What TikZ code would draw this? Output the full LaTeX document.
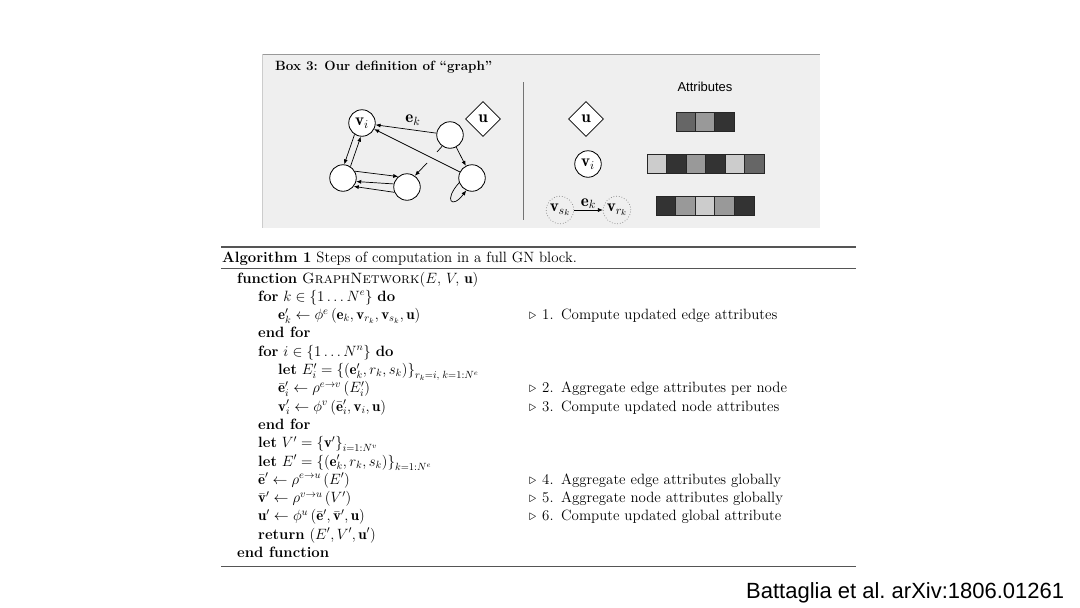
\RequirePackage{fix-cm}
\documentclass[tikz,border=0pt]{standalone}
\usepackage{fontspec}
\newfontfamily\arialf{Liberation Sans}
\usetikzlibrary{shapes.geometric,arrows.meta,calc}
\definecolor{boxbg}{HTML}{EFEFEF}
\definecolor{cA}{HTML}{333333}
\definecolor{cB}{HTML}{666666}
\definecolor{cC}{HTML}{999999}
\definecolor{cD}{HTML}{CCCCCC}
\definecolor{rulec}{HTML}{555555}
\newcommand{\algfont}{\fontsize{14.9}{18}\selectfont}
\newcommand{\boxfont}{\fontsize{13.4}{16}\selectfont}
\newcommand{\gfont}{\fontsize{17}{20}\selectfont}
\tikzset{
  gnode/.style={circle, draw=black, fill=white, line width=0.8pt, minimum size=26.5pt, inner sep=0pt, font=\gfont},
  gdiam/.style={diamond, draw=black, fill=white, line width=0.8pt, minimum width=35pt, minimum height=35pt, inner sep=0pt, font=\gfont},
  dnode/.style={circle, draw=gray, dotted, line width=0.7pt, minimum size=27.5pt, inner sep=0pt, font=\gfont},
  gedge/.style={-{Latex[length=5pt,width=4pt]}, line width=0.7pt},
  gline/.style={line width=0.7pt},
  alg/.style={anchor=base west, inner sep=0pt, font=\algfont},
  cell/.style={draw=black!85, line width=0.7pt},
  arule/.style={draw=rulec},
}
\begin{document}
\begin{tikzpicture}[x=1pt,y=-1pt]
\useasboundingbox (0,0) rectangle (1080,608);
% ---------- Box 3 ----------
\fill[boxbg] (262,54) rectangle (820,228);
\draw[gray!80, line width=0.9pt] (262,54) -- (820,54);
\draw[gray!40, line width=0.6pt] (262.5,54) -- (262.5,228);
\node[anchor=base west, inner sep=0pt, font=\boxfont\bfseries] (title) at (275,70) {Box 3: Our definition of ``graph''};
\draw[gray!90!black, line width=0.8pt] (523,82) -- (523,220);
% graph
\node[gnode] (vi) at (362,123) {$\mathbf{v}_i$};
\node[gnode] (tr) at (450,135) {};
\node[gnode] (bl) at (343,178) {};
\node[gnode] (bm) at (407,187) {};
\node[gnode] (rb) at (472,178) {};
\node[gdiam] (u) at (483,119) {$\mathbf{u}$};
\node[inner sep=0pt, font=\gfont] (eklab) at (413,120) {$\mathbf{e}_k$};
\draw[gedge] (tr) -- (vi);
\draw[gedge] (rb) -- (vi);
\draw[gedge] (tr) -- (rb);
\draw[gedge] (vi.237) -- (bl.85);
\draw[gedge] (bl.57) -- (vi.265);
\draw[gedge] (bl.30) -- (bm.130);
\draw[gedge] (bm.167) -- (bl.-15);
\draw[gedge] (bm.203) -- (bl.-38);
\coordinate (gapA) at (437,152);
\coordinate (gapB) at (427,163);
\draw[gline] (tr.235) -- (gapA);
\draw[gedge] (gapB) -- (bm.55);
\draw[gedge] (rb.200) .. controls +(-16,18) and +(-14,19) .. (rb.245);
% right side
\node[font=\arialf\fontsize{13}{15}\selectfont, inner sep=0pt] (attr) at (705,87) {Attributes};
\node[gdiam] (u2) at (586,119) {$\mathbf{u}$};
\node[gnode] (vi2) at (588,164) {$\mathbf{v}_i$};
\node[dnode] (vs) at (560,210) {$\mathbf{v}_{s_k}$};
\node[dnode] (vr) at (617,210) {$\mathbf{v}_{r_k}$};
\draw[gedge] (vs) -- (vr) node[midway, above, inner sep=1pt, font=\gfont] (eklab2) {$\mathbf{e}_k$};
% attribute bars
\foreach \c [count=\i from 0] in {cB,cC,cA}
  \filldraw[cell, fill=\c] (676+\i*19.33,112) rectangle ++(19.33,19);
\foreach \c [count=\i from 0] in {cD,cA,cC,cA,cD,cB}
  \filldraw[cell, fill=\c] (647+\i*19.5,154) rectangle ++(19.5,19);
\foreach \c [count=\i from 0] in {cA,cC,cD,cC,cA}
  \filldraw[cell, fill=\c] (656+\i*19.6,196) rectangle ++(19.6,19);
% ---------- Algorithm ----------
\draw[arule, line width=1.3pt] (221,247) -- (856,247);
\draw[arule, line width=0.6pt] (221,268) -- (856,268);
\draw[arule, line width=0.9pt] (221,566) -- (856,566);
\node[alg] (cap) at (222,262) {\textbf{Algorithm 1} Steps of computation in a full GN block.};
\node[alg] (l1) at (237,283) {\textbf{function} \textsc{GraphNetwork}$(E,\,V,\,\mathbf{u})$};
\node[alg] (l2) at (258,301.3) {\textbf{for} $k\in\{1\ldots N^e\}$ \textbf{do}};
\node[alg] (l3) at (278,319.6) {$\mathbf{e}'_k\leftarrow\phi^e\left(\mathbf{e}_k,\mathbf{v}_{r_k},\mathbf{v}_{s_k},\mathbf{u}\right)$};
\node[alg] (l4) at (258,337.9) {\textbf{end for}};
\node[alg] (l5) at (258,356.2) {\textbf{for} $i\in\{1\ldots N^n\}$ \textbf{do}};
\node[alg] (l6) at (278,374.5) {\textbf{let} $E'_i=\left\{(\mathbf{e}'_k,r_k,s_k)\right\}_{r_k=i,\;k=1:N^e}$};
\node[alg] (l7) at (278,392.8) {$\bar{\mathbf{e}}'_i\leftarrow\rho^{e\rightarrow v}\left(E'_i\right)$};
\node[alg] (l8) at (278,411.1) {$\mathbf{v}'_i\leftarrow\phi^v\left(\bar{\mathbf{e}}'_i,\mathbf{v}_i,\mathbf{u}\right)$};
\node[alg] (l9) at (258,429.4) {\textbf{end for}};
\node[alg] (l10) at (258,447.7) {\textbf{let} $V'=\left\{\mathbf{v}'\right\}_{i=1:N^v}$};
\node[alg] (l11) at (258,466) {\textbf{let} $E'=\left\{(\mathbf{e}'_k,r_k,s_k)\right\}_{k=1:N^e}$};
\node[alg] (l12) at (258,484.3) {$\bar{\mathbf{e}}'\leftarrow\rho^{e\rightarrow u}\left(E'\right)$};
\node[alg] (l13) at (258,502.6) {$\bar{\mathbf{v}}'\leftarrow\rho^{v\rightarrow u}\left(V'\right)$};
\node[alg] (l14) at (258,520.9) {$\mathbf{u}'\leftarrow\phi^u\left(\bar{\mathbf{e}}',\bar{\mathbf{v}}',\mathbf{u}\right)$};
\node[alg] (l15) at (258,539.2) {\textbf{return} $(E',V',\mathbf{u}')$};
\node[alg] (l16) at (237,557.5) {\textbf{end function}};
% comments
\foreach \y/\n/\t [count=\k] in {319.6/1/Compute updated edge attributes,
                       392.8/2/Aggregate edge attributes per node,
                       411.1/3/Compute updated node attributes,
                       484.3/4/Aggregate edge attributes globally,
                       502.6/5/Aggregate node attributes globally,
                       520.9/6/Compute updated global attribute}{
  \node[alg] (tri\k) at (529,\y) {$\triangleright$};
  \node[alg] (num\k) at (542,\y) {\n.};
  \node[alg] (cm\k) at (561,\y) {\t};
}
% citation
\node[anchor=base west, inner sep=0pt, font=\arialf\fontsize{22}{26}\selectfont] (cite) at (746,598) {Battaglia et al.\ arXiv:1806.01261};
\end{tikzpicture}
\end{document}
